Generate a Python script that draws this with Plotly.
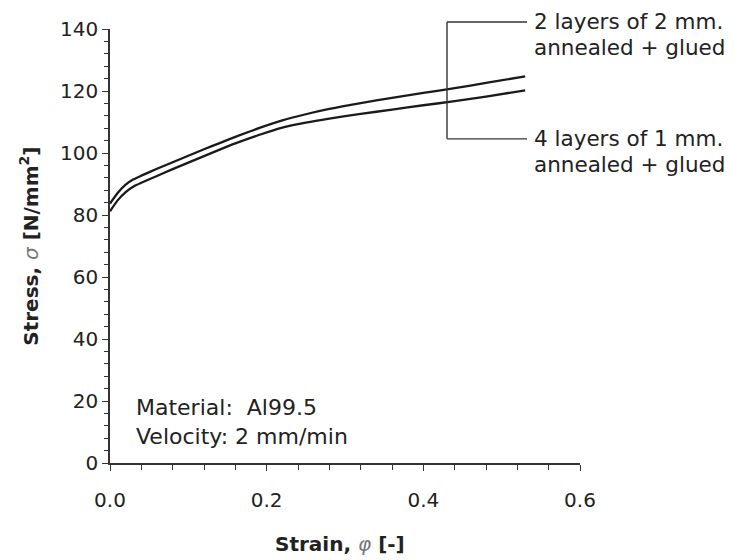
import plotly.graph_objects as go

# ---- data ----
strain = [0.0, 0.01, 0.02, 0.03, 0.04, 0.06, 0.08, 0.10, 0.12, 0.14, 0.16, 0.19,
          0.22, 0.25, 0.28, 0.32, 0.36, 0.40, 0.44, 0.48, 0.53]
stress_2x2 = [83.7, 87.2, 89.8, 91.5, 92.7, 94.9, 97.0, 99.1, 101.2, 103.2, 105.2, 108.0,
              110.5, 112.5, 114.2, 116.1, 117.8, 119.4, 120.9, 122.6, 124.7]
stress_4x1 = [81.2, 84.8, 87.4, 89.2, 90.4, 92.6, 94.8, 96.9, 99.0, 101.1, 103.1, 105.8,
              108.2, 109.8, 111.1, 112.6, 114.0, 115.4, 116.7, 118.2, 120.2]
series_names = ["2 layers of 2 mm.", "4 layers of 1 mm."]
series_sub = ["annealed + glued", "annealed + glued"]
info_lines = ["Material:\u00a0\u00a0Al99.5", "Velocity: 2 mm/min"]
x_ticks = [0.0, 0.2, 0.4, 0.6]
y_ticks = [0, 20, 40, 60, 80, 100, 120, 140]

FONT = "DejaVu Sans, Verdana, sans-serif"
INK = "#222222"

fig = go.Figure()
for ys, nm in zip([stress_2x2, stress_4x1], series_names):
    fig.add_trace(go.Scatter(x=strain, y=ys, mode="lines", name=nm,
                             line=dict(color="#1a1a1a", width=2.3, shape="spline", smoothing=0.6),
                             showlegend=False, hoverinfo="skip"))

OFF = 8  # page margin of the html body
L, T = 102, 21
PW, PH = 470, 434.5
W, H = 735, 560
R = W - L - PW
B = H - T - PH

def px_x(p):  # window pixel -> paper x
    return (p - OFF - L) / PW

def px_y(p):  # window pixel -> paper y
    return (T + PH - (p - OFF)) / PH

# bracket linking labels to curves
bx0, bx1 = px_x(447), px_x(527)
by_top, by_bot = px_y(22), px_y(139)
for (x0, y0, x1, y1) in [(bx0, by_top, bx1, by_top), (bx0, by_top, bx0, by_bot),
                         (bx0, by_bot, bx1, by_bot)]:
    fig.add_shape(type="line", xref="paper", yref="paper", x0=x0, y0=y0, x1=x1, y1=y1,
                  line=dict(color="#333333", width=1.4))

ann = []
label_font = dict(family=FONT, size=21.5, color=INK)
for txt, py in [(series_names[0], 21), (series_sub[0], 47.5),
                (series_names[1], 138.5), (series_sub[1], 165)]:
    ann.append(dict(text=txt, xref="paper", yref="paper", x=px_x(532), y=px_y(py),
                    xanchor="left", yanchor="middle", showarrow=False, font=label_font))
info_font = dict(family=FONT, size=22, color=INK)
for txt, py in zip(info_lines, [408, 437]):
    ann.append(dict(text=txt, xref="paper", yref="paper", x=px_x(134), y=px_y(py),
                    xanchor="left", yanchor="middle", showarrow=False, font=info_font))

# axis titles
title_font = dict(family=FONT, size=20, color=INK, weight="bold")
ann.append(dict(text="Stress, <span style='font-weight:normal;color:#777'><i>σ</i></span> [N/mm<sup>2</sup>]",
                xref="paper", yref="paper", x=px_x(29), y=px_y(247), textangle=-90,
                xanchor="center", yanchor="middle", showarrow=False, font=title_font))
ann.append(dict(text="Strain, <span style='font-weight:normal;color:#777'><i>φ</i></span> [-]",
                xref="paper", yref="paper", x=px_x(340), y=px_y(545),
                xanchor="center", yanchor="middle", showarrow=False, font=title_font))

axis_common = dict(showgrid=False, zeroline=False, showline=True, linecolor="#333333",
                   linewidth=1.5, ticks="outside", tickcolor="#333333", tickwidth=1.3,
                   tickfont=dict(family=FONT, size=20, color=INK))

fig.update_xaxes(range=[0, 0.6], tickvals=x_ticks, tickformat=".1f", ticklen=6,
                 ticklabelstandoff=12,
                 minor=dict(dtick=0.04, ticks="outside", ticklen=5, tickcolor="#333333", tickwidth=1.2),
                 **axis_common)
fig.update_yaxes(range=[0, 140], tickvals=y_ticks, ticklen=6, ticklabelstandoff=0,
                 minor=dict(dtick=4, ticks="outside", ticklen=4, tickcolor="#333333", tickwidth=1.2),
                 **axis_common)

fig.update_layout(width=W, height=H, margin=dict(l=L, r=R, t=T, b=B, autoexpand=False),
                  plot_bgcolor="white", paper_bgcolor="white", annotations=ann,
                  font=dict(family=FONT, color=INK))
fig.write_html("out.html")
